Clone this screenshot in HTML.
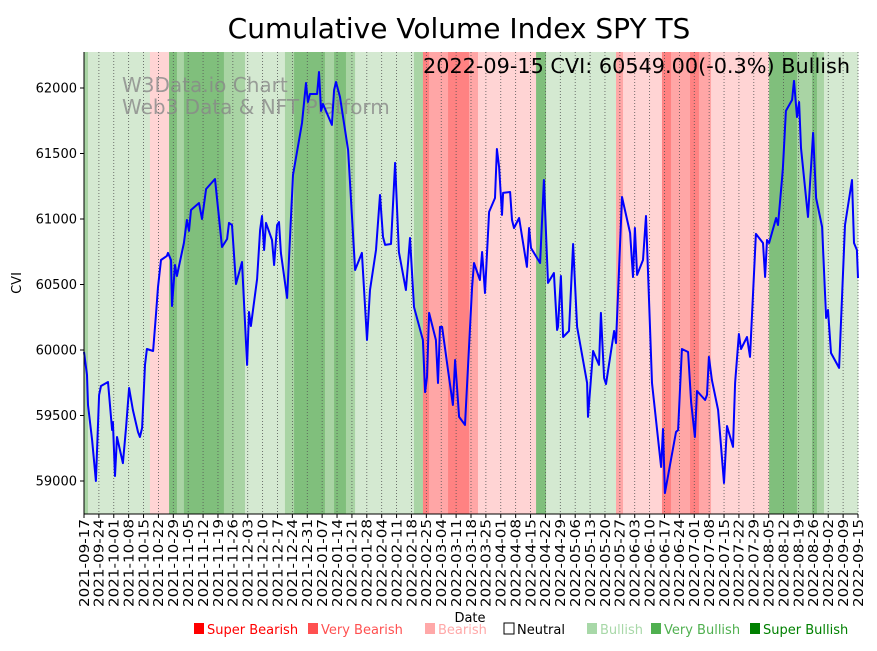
<!DOCTYPE html>
<html><head><meta charset="utf-8"><style>
html,body{margin:0;padding:0;background:#fff;}
svg text{font-family:"DejaVu Sans","Liberation Sans",sans-serif;}
</style></head><body>
<svg id="chart" width="877" height="646" xmlns="http://www.w3.org/2000/svg">
<text x="459" y="38" font-size="28" text-anchor="middle">Cumulative Volume Index SPY TS</text>
<g id="bands"></g><g id="grid"></g>
<text x="122" y="92" font-size="20" fill="#888" fill-opacity="0.8">W3Data.io Chart</text>
<text x="122" y="114" font-size="20" fill="#888" fill-opacity="0.8">Web3 Data &amp; NFT Platform</text>
<g id="series"></g>
<text x="850" y="73" font-size="20" text-anchor="end" textLength="427" lengthAdjust="spacingAndGlyphs">2022-09-15 CVI: 60549.00(-0.3%) Bullish</text>
<g id="axes"></g>
<text x="470" y="622" font-size="13" text-anchor="middle">Date</text>
<text transform="translate(21,283) rotate(-90)" font-size="13" text-anchor="middle">CVI</text>
<g id="legend"></g>
</svg>
<script>
const days=[0,1.4,1.9,3.8,5.6,7.1,8.0,11.3,13.2,13.6,14.6,15.5,18.3,19.8,21.2,23.0,25.4,26.3,27.3,28.7,29.6,32.5,33.9,34.8,36.2,39.0,39.5,40.9,41.4,42.8,43.7,47.0,48.4,49.4,50.3,54.1,55.5,57.4,61.6,64.9,67.3,68.2,69.6,71.5,74.3,76.7,77.6,78.5,81.4,82.8,83.7,84.7,85.6,88.4,89.4,90.8,91.7,92.6,95.5,98.3,102.5,104.4,105.3,106.3,109.6,110.5,111.5,112.4,116.6,117.6,118.5,120.4,124.2,127.5,130.7,133.1,134.5,137.3,139.2,140.6,141.6,144.4,146.3,148.1,151.4,153.3,155.2,159.4,160.4,161.3,162.3,165.5,166.5,167.4,168.4,171.2,173.5,174.5,176.4,179.2,182.5,183.4,186.2,187.2,188.6,190.5,193.3,194.2,195.2,196.6,197.1,200.4,201.3,202.2,204.6,208.3,209.3,210.2,214.5,216.3,218.2,221.0,222.5,222.9,224.3,225.3,228.1,230.0,231.9,236.6,237.0,239.4,242.2,243.1,244.6,245.5,249.3,250.2,253.0,256.8,258.2,259.1,260.1,262.9,264.3,267.1,271.4,272.3,273.2,278.4,279.4,281.2,284.1,285.5,287.3,288.3,292.1,293.0,293.9,295.3,298.2,301.0,302.4,305.2,306.2,308.0,309.0,311.8,313.2,316.0,319.3,320.3,321.2,322.2,325.5,326.4,328.3,328.7,330.1,333.0,333.9,335.3,336.3,337.2,340.5,342.9,344.3,347.1,349.0,349.9,351.3,355.1,357.9,361.2,362.1,363.5,364.0];
const cvi=[59985,59809,59580,59313,59000,59657,59725,59756,59389,59450,59038,59336,59137,59412,59710,59542,59374,59336,59405,59886,60008,59992,60283,60481,60687,60718,60741,60687,60336,60649,60565,60817,60992,60909,61069,61122,61000,61229,61305,60786,60847,60970,60954,60504,60672,59886,60290,60183,60542,60916,61023,60763,60970,60840,60649,60954,60977,60741,60397,61336,61733,62038,61893,61954,61954,62122,61825,61878,61718,61985,62046,61931,61527,60611,60741,60076,60458,60763,61183,60863,60802,60809,61428,60748,60458,60855,60328,60076,59679,59794,60283,60076,59748,60176,60176,59847,59580,59924,59489,59428,60481,60664,60534,60748,60435,61054,61160,61534,61397,61031,61199,61206,60992,60931,61008,60634,60931,60779,60664,61298,60512,60588,60153,60176,60565,60099,60145,60809,60176,59748,59489,59992,59886,60283,59786,59740,60145,60053,61168,60893,60557,60931,60573,60687,61023,59748,59107,59397,58908,59374,59389,60008,59985,59603,59336,59687,59618,59657,59947,59771,59542,58985,59420,59260,59748,60122,60008,60099,59947,60886,60817,60557,60840,60817,61008,60954,61313,61389,61825,61909,62054,61779,61893,61542,61015,61657,61160,60939,60244,60305,59977,59863,60954,61298,60817,60763,60549];
const bandStart=[0,1.9,31,40,43.7,47,65.8,75.7,94.5,98.8,113.3,117.6,123.2,127.5,155.2,159.4,162.3,171.2,181.1,185.3,212.6,217.3,250.2,253.5,271.8,276.1,285,289.2,294.9,322.2,335.3,342.4,344.7,348];
const bandEnd=[1.9,31,40,43.7,47,65.8,75.7,94.5,98.8,113.3,117.6,123.2,127.5,155.2,159.4,162.3,171.2,181.1,185.3,212.6,217.3,250.2,253.5,271.8,276.1,285,289.2,294.9,322.2,335.3,342.4,344.7,348,364];
const bandCat=[2,1,-1,3,2,3,2,1,2,3,2,3,2,1,2,-3,-2,-3,-2,-1,3,1,-2,-1,-3,-2,-3,-2,-1,3,2,3,2,1];
const yTicks=[59000,59500,60000,60500,61000,61500,62000];
const legendLabels=["Super Bearish","Very Bearish","Bearish","Neutral","Bullish","Very Bullish","Super Bullish"];

const NS="http://www.w3.org/2000/svg";
const X0=84,X1=858,Y0=52,Y1=514,D0=0,D1=364,V0=59000,V1=62000;
const xs=d=>X0+(d-D0)/(D1-D0)*(X1-X0);
const ys=v=>481-(v-V0)/(V1-V0)*393;
function mk(tag,attrs,parent){const e=document.createElementNS(NS,tag);for(const k in attrs)e.setAttribute(k,attrs[k]);parent.appendChild(e);return e;}
const catColor={"3":"#80bf7c","2":"#a9d4a4","1":"#d4e9d1","-1":"#ffd4d4","-2":"#ffa6a6","-3":"#ff8282"};
const gb=document.getElementById('bands');
for(let i=0;i<bandStart.length;i++){
 const r=mk('rect',{x:xs(bandStart[i]),y:Y0,width:xs(bandEnd[i])-xs(bandStart[i])+0.3,height:Y1-Y0,fill:catColor[bandCat[i]]},gb);
 
 
}
const gg=document.getElementById('grid'),ga=document.getElementById('axes');
const start=new Date(Date.UTC(2021,8,17));
const tickDays=[];
for(let w=0;w<=51;w++)tickDays.push(w*7);
tickDays.push(364);
for(const d of tickDays){
 const x=xs(d);
 const dt=new Date(start.getTime()+Math.min(d,363)*86400000);
 const lab=dt.toISOString().slice(0,10);
 const l=mk('line',{x1:x,x2:x,y1:Y0,y2:Y1,stroke:'#555','stroke-width':0.8,'stroke-dasharray':'1,2'},gg);
 
 
 const t=mk('line',{x1:x,x2:x,y1:Y1,y2:Y1+4,stroke:'#000'},ga);
 
 
 const tx=mk('text',{transform:`translate(${x+4.8},${Y1+5}) rotate(-90)`,'font-size':13.5,'text-anchor':'end',textLength:88,lengthAdjust:'spacingAndGlyphs'},ga);
 tx.textContent=lab;
 
 
}
for(const v of yTicks){
 const y=ys(v);
 const t=mk('line',{x1:X0-4,x2:X0,y1:y,y2:y,stroke:'#000'},ga);
 
 
 const tx=mk('text',{x:X0-7,y:y+4.5,'font-size':13,'text-anchor':'end'},ga);
 tx.textContent=v;
 
 
}
const ax=mk('path',{d:`M${X0},${Y0}V${Y1}H${X1}`,fill:'none',stroke:'#000','stroke-width':1},ga);


const gs=document.getElementById('series');
const p=mk('polyline',{points:days.map((d,i)=>xs(d).toFixed(1)+','+ys(cvi[i]).toFixed(1)).join(' '),fill:'none',stroke:'#0000ff','stroke-width':2,'stroke-linejoin':'round'},gs);


const lg=document.getElementById('legend');
const lcol=["#ff0000","#ff5050","#ffa8a8","#000","#a8d8a8","#50b050","#008000"];
const lx=[194,308,425,504,587,651,750];


for(let i=0;i<legendLabels.length;i++){
 const r=mk('rect',{x:lx[i],y:623,width:10,height:11,fill:i==3?'#fff':lcol[i],stroke:i==3?'#000':'none'},lg);
 
 
 const t=mk('text',{x:lx[i]+13,y:634,'font-size':13,fill:lcol[i]},lg);
 t.textContent=legendLabels[i];
 
 
}
</script>
</body></html>
